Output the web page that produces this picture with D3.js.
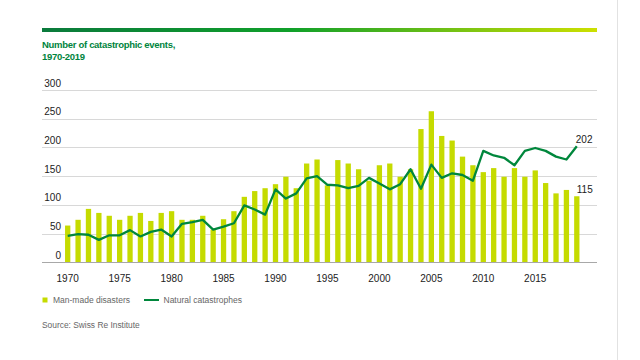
<!DOCTYPE html>
<html>
<head>
<meta charset="utf-8">
<script src="https://cdn.jsdelivr.net/npm/d3@7"></script>
<style>
    body { margin: 0; background: #fff; }
    svg { display: block; font-family: "Liberation Sans", Arial, sans-serif; }
</style>
</head>
<body>
<svg id="chart" width="640" height="360"></svg>
<script>
// Chart data
const years = d3.range(1970, 2020);
const manMade = [64, 74, 93, 86, 81, 74, 81, 86, 72, 86,
                 89, 74, 74, 81, 57, 75, 89, 114, 124, 129,
                 136, 149, 129, 172, 179, 134, 178, 172, 162, 142,
                 169, 172, 149, 162, 232, 263, 220, 212, 184, 169,
                 157, 164, 149, 164, 149, 160, 138, 120, 126, 115];
const natural = [46, 49, 48, 39, 47, 47, 56, 45, 53, 57,
                 45, 67, 70, 74, 57, 62, 68, 99, 92, 83,
                 127, 111, 120, 146, 150, 135, 134, 129, 133, 147,
                 137, 127, 136, 162, 128, 170, 147, 155, 152, 142,
                 194, 186, 182, 169, 194, 199, 194, 184, 179, 202];
const yTicks = [0, 50, 100, 150, 200, 250, 300];
const xTickYears = [1970, 1975, 1980, 1985, 1990, 1995, 2000, 2005, 2010, 2015];

const barColor = "#c5db00";
const lineColor = "#00873c";

const svg = d3.select("#chart");

// Header gradient bar
const grad = svg.append("defs").append("linearGradient")
    .attr("id", "topbar").attr("x1", "0%").attr("x2", "100%");
grad.append("stop").attr("offset", "0%").attr("stop-color", "#0a7a3c");
grad.append("stop").attr("offset", "45%").attr("stop-color", "#10a02a");
grad.append("stop").attr("offset", "100%").attr("stop-color", "#cde000");

svg.append("rect")
    .attr("x", 42).attr("y", 28).attr("width", 555).attr("height", 4)
    .attr("fill", "url(#topbar)");

// Right border line
svg.append("line")
    .attr("x1", 617.5).attr("x2", 617.5).attr("y1", 0).attr("y2", 360)
    .attr("stroke", "#e2e2e2");

// Title
const title = svg.append("text")
    .attr("x", 42).attr("y", 48)
    .attr("fill", "#00843d")
    .attr("font-weight", "bold")
    .attr("font-size", 9.5)
    .attr("letter-spacing", -0.3);
title.append("tspan").attr("x", 42).text("Number of catastrophic events,");
title.append("tspan").attr("x", 42).attr("dy", 12).text("1970-2019");

// Scales
const x = d3.scaleBand()
    .domain(years)
    .range([62.5, 582])
    .paddingInner(0.49)
    .paddingOuter(0.245);

const y = d3.scaleLinear()
    .domain([0, 300])
    .range([262.3, 90]);

// Gridlines
svg.append("g").selectAll("line")
    .data(yTicks.filter(d => d > 0))
    .enter().append("line")
    .attr("x1", 42).attr("x2", 597)
    .attr("y1", d => Math.round(y(d)) + 0.5)
    .attr("y2", d => Math.round(y(d)) + 0.5)
    .attr("stroke", "#d8d8d8");

// Y tick labels
svg.append("g").selectAll("text")
    .data(yTicks)
    .enter().append("text")
    .attr("x", 61)
    .attr("y", d => y(d) - 3.5)
    .attr("text-anchor", "end")
    .attr("font-size", 10)
    .attr("fill", "#222")
    .text(d => d);

// Bars
svg.append("g").selectAll("rect")
    .data(years.map((yr, i) => ({ year: yr, value: manMade[i] })))
    .enter().append("rect")
    .attr("x", d => x(d.year))
    .attr("width", x.bandwidth())
    .attr("y", d => y(d.value))
    .attr("height", d => y(0) - y(d.value))
    .attr("fill", barColor);

// Baseline
svg.append("line")
    .attr("x1", 42).attr("x2", 597)
    .attr("y1", 262.5).attr("y2", 262.5)
    .attr("stroke", "#a8a8a8");

// Natural catastrophes line
const line = d3.line()
    .x((d, i) => x(years[i]) + x.bandwidth() / 2)
    .y(d => y(d));

svg.append("path")
    .datum(natural)
    .attr("d", line)
    .attr("fill", "none")
    .attr("stroke", lineColor)
    .attr("stroke-width", 2.3)
    .attr("stroke-linejoin", "round");

// End value labels
const lastYear = years[years.length - 1];
const lastX = x(lastYear) + x.bandwidth() / 2;
svg.append("text")
    .attr("x", lastX - 1).attr("y", 142.5)
    .attr("font-size", 10).attr("fill", "#222")
    .text(natural[natural.length - 1]);
svg.append("text")
    .attr("x", lastX).attr("y", 192.5)
    .attr("font-size", 10).attr("fill", "#222")
    .text(manMade[manMade.length - 1]);

// X tick labels
svg.append("g").selectAll("text")
    .data(xTickYears)
    .enter().append("text")
    .attr("x", d => x(d) + x.bandwidth() / 2)
    .attr("y", 282)
    .attr("text-anchor", "middle")
    .attr("font-size", 10)
    .attr("fill", "#222")
    .text(d => d);

// Legend
const legend = svg.append("g").attr("font-size", 8.5).attr("fill", "#666");
legend.append("rect")
    .attr("x", 42.5).attr("y", 297.5).attr("width", 5).attr("height", 5)
    .attr("fill", barColor);
legend.append("text").attr("x", 53).attr("y", 303).text("Man-made disasters");
legend.append("line")
    .attr("x1", 144).attr("x2", 159).attr("y1", 300).attr("y2", 300)
    .attr("stroke", lineColor).attr("stroke-width", 2);
legend.append("text").attr("x", 163.5).attr("y", 303).text("Natural catastrophes");

// Source
svg.append("text")
    .attr("x", 42).attr("y", 328)
    .attr("font-size", 8.4)
    .attr("fill", "#666")
    .text("Source: Swiss Re Institute");
</script>
</body>
</html>
